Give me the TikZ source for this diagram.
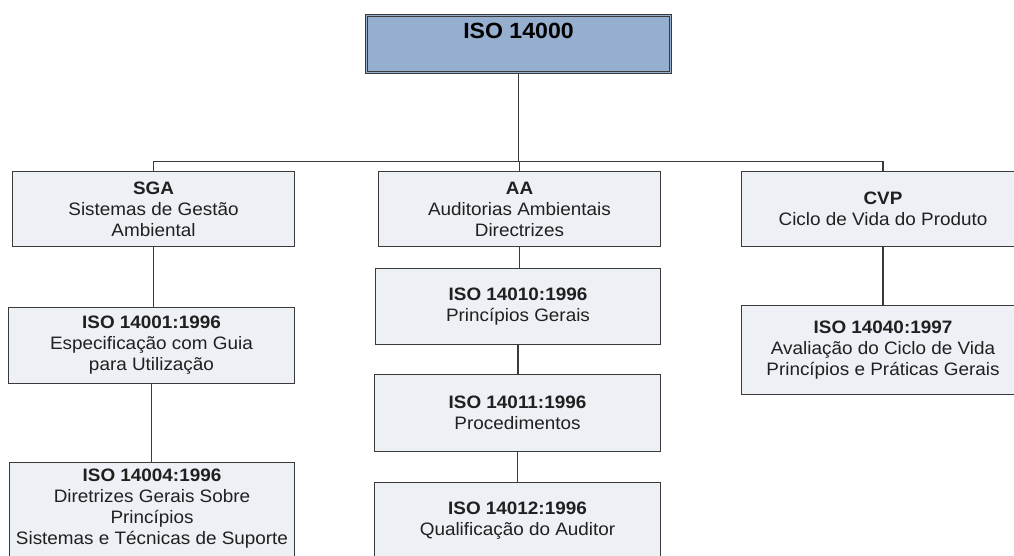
\documentclass[tikz,border=0pt]{standalone}
\usepackage{fontspec}
\setmainfont{Liberation Sans}[FakeStretch=1.05]
\definecolor{boxfill}{RGB}{237,240,245}
\definecolor{topfill}{RGB}{150,175,207}
\definecolor{edge}{RGB}{58,58,58}
\definecolor{ink}{RGB}{32,32,32}

\begin{document}
\begin{tikzpicture}[x=1pt,y=1pt,
  stdbox/.style={draw=edge, line width=1.3pt, fill=boxfill, text=ink,
    align=center, inner sep=0pt, font=\fontsize{18}{21}\selectfont},
  tallbox/.style={draw=edge, line width=1.3pt, fill=boxfill, text=ink,
    inner sep=0pt, font=\fontsize{18}{21}\selectfont},
  topbox/.style={draw=edge, line width=1.1pt, double=topfill,
    double distance=1.2pt, fill=topfill, text=black, inner sep=0pt,
    font=\fontsize{22}{26}\selectfont\bfseries},
  link/.style={draw=edge, line width=1.2pt}]
\clip (0,0) rectangle (1014,-556);
\fill[white] (0,0) rectangle (1014,-556);

% root
\node[topbox, minimum width=303.5pt, minimum height=56.5pt,
      text height=22.8pt, text depth=33.7pt] (root) at (518.5,-44) {ISO 14000};

% second level
\node[stdbox, minimum width=282pt, minimum height=75pt] (sga) at (153.5,-209)
  {\textbf{SGA}\\Sistemas de Gestão\\Ambiental};
\node[stdbox, minimum width=282pt, minimum height=75pt] (aa) at (519.5,-209)
  {\textbf{AA}\\Auditorias Ambientais\\Directrizes};
\node[stdbox, minimum width=283pt, minimum height=75pt] (cvp) at (883,-209)
  {\textbf{CVP}\\Ciclo de Vida do Produto};

% SGA branch
\node[stdbox, minimum width=286pt, minimum height=76pt] (i4001) at (151.5,-345.5)
  {\textbf{ISO 14001:1996}\\Especificação com Guia\\para Utilização};
\node[tallbox, anchor=north] (i4004) at (152,-462)
  {\parbox[t][120pt][t]{285pt}{\centering\rule{0pt}{19pt}\textbf{ISO 14004:1996}\\
   Diretrizes Gerais Sobre\\Princípios\\Sistemas e Técnicas de Suporte}};

% AA branch
\node[stdbox, minimum width=285pt, minimum height=76pt] (i4010) at (518,-306.5)
  {\textbf{ISO 14010:1996}\\Princípios Gerais};
\node[stdbox, minimum width=286pt, minimum height=77pt] (i4011) at (517.5,-413)
  {\textbf{ISO 14011:1996}\\Procedimentos};
\node[stdbox, minimum width=286pt, minimum height=77pt] (i4012) at (517.5,-521)
  {\textbf{ISO 14012:1996}\\Qualificação do Auditor};

% CVP branch
\node[stdbox, minimum width=283pt, minimum height=89pt] (i4040) at (883,-350)
  {\textbf{ISO 14040:1997}\\Avaliação do Ciclo de Vida\\Princípios e Práticas Gerais};

% connectors
\path (sga.north) ++(0,9) coordinate (busL);
\draw[link] (sga.north) -- (busL) -| (cvp.north);
\draw[link] (root.south) -- (root.south |- busL);
\draw[link] (aa.north) -- (aa.north |- busL);
\draw[link] (sga.south) -- (sga.south |- i4001.north);
\draw[link] (i4001.south) -- (i4001.south |- i4004.north);
\draw[link] (aa.south) -- (aa.south |- i4010.north);
\draw[link] (i4010.south) -- (i4010.south |- i4011.north);
\draw[link] (i4011.south) -- (i4011.south |- i4012.north);
\draw[link] (cvp.south) -- (cvp.south |- i4040.north);
\end{tikzpicture}
\end{document}
